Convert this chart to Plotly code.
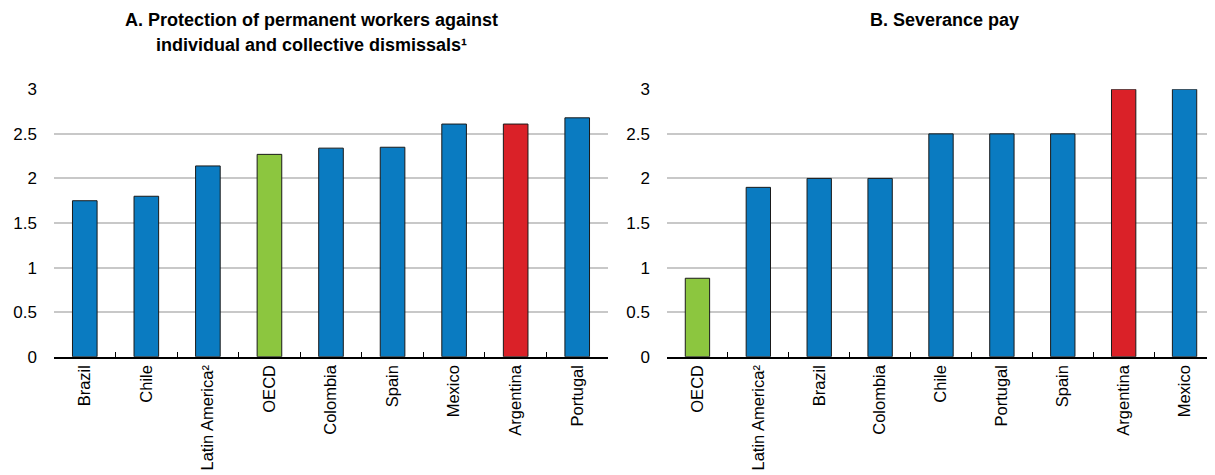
import plotly.graph_objects as go

cats_a = ["Brazil", "Chile", "Latin America²", "OECD", "Colombia", "Spain", "Mexico", "Argentina", "Portugal"]
vals_a = [1.75, 1.80, 2.14, 2.27, 2.34, 2.35, 2.61, 2.61, 2.68]

cats_b = ["OECD", "Latin America²", "Brazil", "Colombia", "Chile", "Portugal", "Spain", "Argentina", "Mexico"]
vals_b = [0.88, 1.90, 2.00, 2.00, 2.50, 2.50, 2.50, 3.00, 3.00]

yticks = [0, 0.5, 1, 1.5, 2, 2.5, 3]
ytick_text = ["0", "0.5", "1", "1.5", "2", "2.5", "3"]

title_a1 = "<b>A. Protection of permanent workers against</b>"
title_a2 = "<b>individual and collective dismissals¹</b>"
title_b = "<b>B. Severance pay</b>"

BLUE = "#0a7bc1"
GREEN = "#8cc63f"
RED = "#da2128"

def colour(c):
    if c == "OECD":
        return GREEN
    if c == "Argentina":
        return RED
    return BLUE

FONT = "Liberation Sans, Arial"
W, H = 1207, 467

fig = go.Figure()
fig.add_trace(go.Bar(x=cats_a, y=vals_a, xaxis="x", yaxis="y",
                     marker=dict(color=[colour(c) for c in cats_a], line=dict(color="#1a1a1a", width=1)),
                     width=0.4, showlegend=False))
fig.add_trace(go.Bar(x=cats_b, y=vals_b, xaxis="x2", yaxis="y2",
                     marker=dict(color=[colour(c) for c in cats_b], line=dict(color="#1a1a1a", width=1)),
                     width=0.4, showlegend=False))

xcommon = dict(showline=True, linecolor="#000", linewidth=1.5, ticks="inside", tickson="boundaries",
               ticklen=5, tickcolor="#000", tickangle=-90, showgrid=False, automargin=False,
               tickfont=dict(size=16.5, color="#000", family=FONT))
ycommon = dict(range=[0, 3], tickvals=yticks, ticktext=ytick_text, showgrid=True, gridcolor="#c8c8c8",
               gridwidth=1.5, zeroline=False, showline=False, ticks="", ticklabelstandoff=16,
               automargin=False, tickfont=dict(size=17, color="#000", family=FONT))

ydom = [1 - 348.7 / H, 1 - 81.3 / H]

def title(text, xc, ytop):
    return dict(text=text, x=xc / W, y=1 - ytop / H, xref="paper", yref="paper", xanchor="center",
                yanchor="middle", showarrow=False, font=dict(size=18, family=FONT, color="#000"))

fig.update_layout(
    width=W, height=H,
    margin=dict(l=0, r=0, t=0, b=0),
    paper_bgcolor="white", plot_bgcolor="white",
    font=dict(family=FONT, color="#000"),
    xaxis=dict(domain=[46 / W, 600 / W], anchor="y", **xcommon),
    yaxis=dict(domain=ydom, anchor="x", **ycommon),
    xaxis2=dict(domain=[659 / W, 1.0], anchor="y2", **xcommon),
    yaxis2=dict(domain=ydom, anchor="x2", **ycommon),
    annotations=[
        title(title_a1, 303, 12),
        title(title_a2, 303, 37),
        title(title_b, 937, 12),
    ],
)

fig.write_html("out.html")
